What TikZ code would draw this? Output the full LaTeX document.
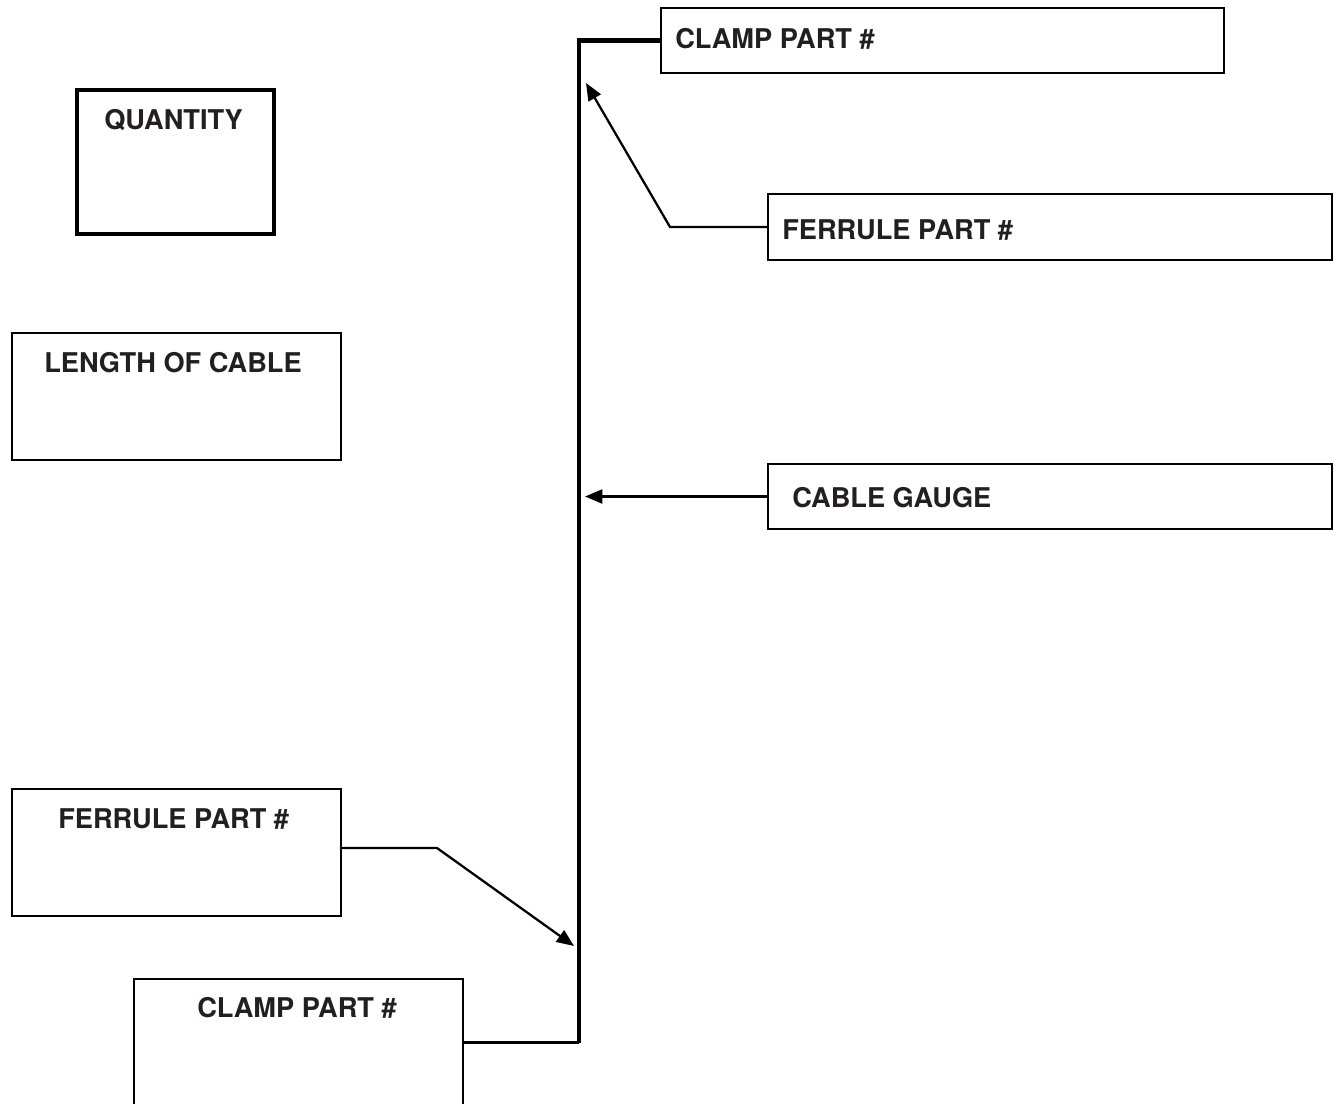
\documentclass[tikz,border=0pt]{standalone}
\usepackage{fontspec}
\setmainfont{TeX Gyre Heros}
\usetikzlibrary{arrows.meta}
\definecolor{ink}{HTML}{231F20}
\tikzset{
  box/.style={draw=black, line width=1.8pt, inner sep=0pt, rectangle},
  qbox/.style={draw=black, line width=3.6pt, inner sep=0pt, rectangle},
  lbl/.style={anchor=base west, inner sep=0pt, text=ink, font=\fontsize{20.4}{24}\selectfont\bfseries},
  conn/.style={draw=black, line width=1.7pt, line join=miter},
  spine/.style={draw=black, line width=3.6pt, line join=miter},
  arr/.style={conn, -{Triangle[length=13pt,width=10.5pt]}},
}
\begin{document}
\begin{tikzpicture}[x=0.75pt,y=-0.75pt]
\useasboundingbox (0,0) rectangle (1341,1103);
\begin{scope}
\clip (0,0) rectangle (1341,1103);
% boxes
\node[qbox, minimum width=147.75pt, minimum height=108pt] (qty) at (175.5,162) {};
\node[box, minimum width=246.75pt, minimum height=95.25pt] (len) at (176.5,396.5) {};
\node[box, minimum width=422.25pt, minimum height=48.75pt] (clampT) at (942.5,40.5) {};
\node[box, minimum width=423pt, minimum height=49.5pt] (ferrR) at (1050,227) {};
\node[box, minimum width=423pt, minimum height=48.75pt] (gauge) at (1050,496.5) {};
\node[box, minimum width=246.75pt, minimum height=95.25pt] (ferrL) at (176.5,852.5) {};
\node[box, minimum width=246.75pt, minimum height=95.25pt] (clampB) at (298.5,1042.5) {};
\end{scope}
% labels
\node[lbl] (tqty) at (104,129) {QUANTITY};
\node[lbl] (tlen) at (44,372) {LENGTH OF CABLE};
\node[lbl] (tclampT) at (675,48) {CLAMP PART \#};
\node[lbl] (tferrR) at (782,239) {FERRULE PART \#};
\node[lbl] (tgauge) at (792,507) {CABLE GAUGE};
\node[lbl] (tferrL) at (58,828) {FERRULE PART \#};
\node[lbl] (tclampB) at (197,1017) {CLAMP PART \#};
% spine
\coordinate (spB) at (579,1042.5);
\draw[spine] (clampT.west) -| (spB);
\draw[conn] (spB) -- (clampB.east);
% arrows
\coordinate (bendR) at (670,227);
\coordinate (tipR) at (586,83);
\draw[arr] (ferrR.west) -- (bendR) -- (tipR);
\coordinate (tipG) at (585,496.5);
\draw[arr] (gauge.west) -- (tipG);
\coordinate (bendL) at (437,848);
\coordinate (tipL) at (574,946);
\draw[arr] (ferrL.east |- bendL) -- (bendL) -- (tipL);
\end{tikzpicture}
\end{document}
